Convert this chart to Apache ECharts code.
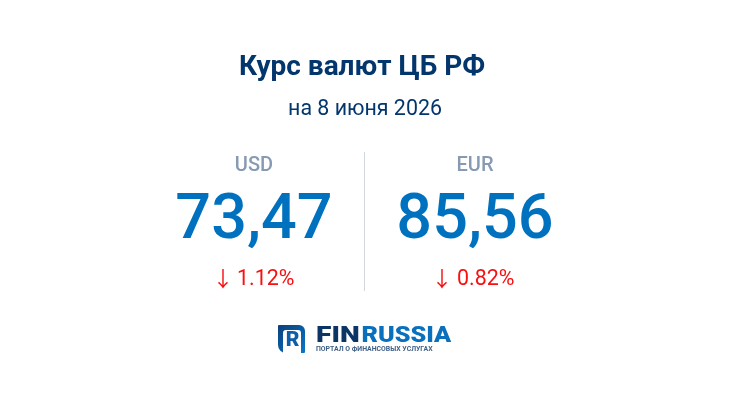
<!DOCTYPE html>
<html>
<head>
<meta charset="utf-8">
<style>
html, body { margin: 0; padding: 0; background: #fff; }
#main { width: 730px; height: 410px; }
</style>
<script src="https://cdn.jsdelivr.net/npm/echarts@6/dist/echarts.min.js"></script>
</head>
<body>
<div id="main"></div>
<script>
var currencies = ['USD', 'EUR'];
var rates = ['73,47', '85,56'];
var changes = ['1.12%', '0.82%'];
var arrows = ['↓', '↓'];
var titleText = 'Курс валют ЦБ РФ';
var subtitleText = 'на 8 июня 2026';
var logoFin = 'FIN';
var logoRussia = 'RUSSIA';
var logoTagline = 'ПОРТАЛ О ФИНАНСОВЫХ УСЛУГАХ';

var columnX = [254, 475];
var changeX = [237, 457];
var arrowX = [223, 442];

var font = 'Roboto';
var chart = echarts.init(document.getElementById('main'), null, { renderer: 'canvas' });

function label(x, y, text, size, weight, color, align, scaleX, family) {
    return {
        type: 'text', silent: true,
        x: x, y: y,
        scaleX: scaleX || 1,
        style: {
            x: 0, y: 0, text: text,
            font: weight + ' ' + size + 'px ' + (family || font),
            fill: color,
            textAlign: align || 'center',
            textVerticalAlign: 'middle'
        }
    };
}

var items = [];
items.push(label(362, 68, titleText, 28, 700, '#03366c'));
items.push(label(365, 110, subtitleText, 21.4, 400, '#03366c'));

for (var i = 0; i < currencies.length; i++) {
    items.push(label(columnX[i], 166, currencies[i], 20, 500, '#869ab4'));
    items.push(label(columnX[i], 222, rates[i], 63, 500, '#0071bf'));
    items.push(label(arrowX[i], 278, arrows[i], 21, 400, '#f80f0f', 'center', 1, '"Noto Sans CJK SC"'));
    items.push(label(changeX[i], 280, changes[i], 21.4, 400, '#f80f0f', 'left'));
}

// divider
items.push({
    type: 'line', silent: true,
    shape: { x1: 364.5, y1: 152, x2: 364.5, y2: 291 },
    style: { stroke: '#cfd6de', lineWidth: 1 }
});

// logo mark
items.push({
    type: 'rect', silent: true,
    shape: { x: 278, y: 325, width: 27, height: 28, r: [1, 6, 1, 8] },
    style: {
        fill: new echarts.graphic.LinearGradient(0, 0, 1, 1, [
            { offset: 0, color: '#0b3f7c' },
            { offset: 1, color: '#0a78c8' }
        ])
    }
});
items.push({
    type: 'rect', silent: true,
    shape: { x: 283, y: 330, width: 18, height: 23, r: [3, 3, 0, 0] },
    style: { fill: '#fff' }
});
items.push(label(292.5, 341, 'R', 21, 900, '#0f5fa8'));

// logo wordmark
items.push(label(316, 336.5, logoFin, 22.5, 900, '#0b3565', 'left', 1.25));
items.push(label(361.5, 336.5, logoRussia, 22.5, 900, '#0a70bd', 'left', 1.12));
items.push(label(316, 349.5, logoTagline, 6.9, 700, '#3f5f86', 'left'));

chart.setOption({
    animation: false,
    backgroundColor: '#fff',
    graphic: { elements: items }
});
</script>
</body>
</html>
